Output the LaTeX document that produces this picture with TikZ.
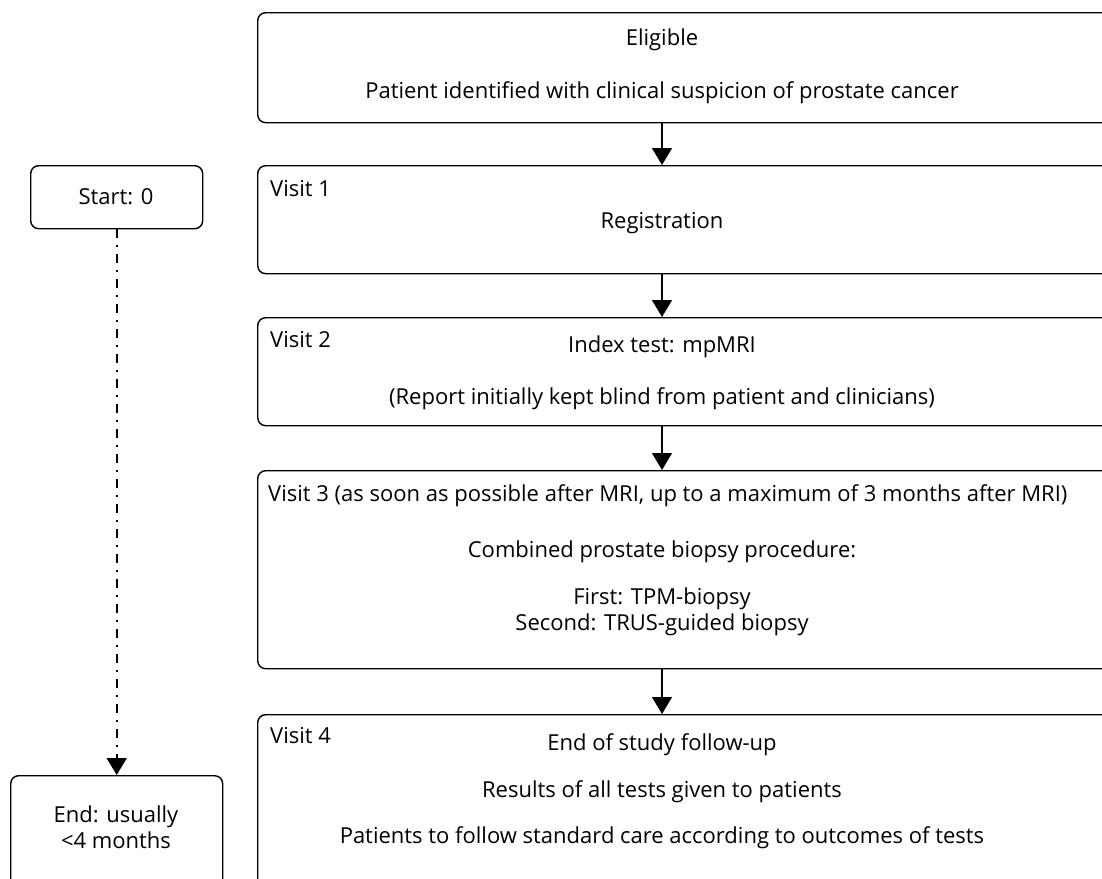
\documentclass[tikz,border=0pt]{standalone}
\usepackage{fontspec}
\setmainfont{Open Sans}
\usetikzlibrary{arrows.meta}

\tikzset{
  box/.style={draw, line width=1.4pt, rounded corners=8pt, anchor=north west, inner sep=0pt},
  txt/.style={font=\fontsize{22}{26}\selectfont, inner sep=0pt, align=center},
  arr/.style={line width=1.4pt, -{Triangle[width=20pt,length=17pt]}},
  dashdot/.style={line width=1.6pt, dash pattern=on 9pt off 7pt on 2pt off 7pt, -{Triangle[width=20pt,length=17pt]}}
}

\begin{document}
\begin{tikzpicture}[x=1pt,y=-1pt]
    \useasboundingbox (0,0) rectangle (1102,878);
    \clip (0,0) rectangle (1102,878);

    % main column
    \node[box, minimum width=860, minimum height=110] (eligible) at (257,12) {};
    \node[box, minimum width=860, minimum height=108] (visit1) at (257,165) {};
    \node[box, minimum width=860, minimum height=108] (visit2) at (257,317) {};
    \node[box, minimum width=860, minimum height=198] (visit3) at (257,470) {};
    \node[box, minimum width=860, minimum height=200] (visit4) at (257,714) {};

    \node[txt] (t01) at (662,40)  {Eligible};
    \node[txt] (t02) at (662,93)  {Patient identified with clinical suspicion of prostate cancer};

    \node[txt, anchor=west] (t11) at (270,189) {Visit 1};
    \node[txt] (t12) at (662,223) {Registration};

    \node[txt, anchor=west] (t21) at (270,340) {Visit 2};
    \node[txt] (t22) at (662,347) {Index test: mpMRI};
    \node[txt] (t23) at (662,399) {(Report initially kept blind from patient and clinicians)};

    \node[txt, anchor=west] (t31) at (268,496) {Visit 3 (as soon as possible after MRI, up to a maximum of 3 months after MRI)};
    \node[txt] (t32) at (662,552) {Combined prostate biopsy procedure:};
    \node[txt] (t33) at (662,612) {First: TPM-biopsy\\Second: TRUS-guided biopsy};

    \node[txt, anchor=west] (t41) at (270,736) {Visit 4};
    \node[txt] (t42) at (662,745) {End of study follow-up};
    \node[txt] (t43) at (662,792) {Results of all tests given to patients};
    \node[txt] (t44) at (662,838) {Patients to follow standard care according to outcomes of tests};

    % time line
    \node[box, minimum width=172, minimum height=63] (start) at (30,165) {};
    \node[txt] (ts) at (116,197) {Start: 0};
    \node[box, minimum width=212, minimum height=140] (end) at (10,775) {};
    \node[txt] (te) at (116,827) {End: usually\\<4 months};

    \coordinate (ax) at (662,0);
    \draw[arr] (eligible.south -| ax) -- (visit1.north -| ax);
    \draw[arr] (visit1.south -| ax) -- (visit2.north -| ax);
    \draw[arr] (visit2.south -| ax) -- (visit3.north -| ax);
    \draw[arr] (visit3.south -| ax) -- (visit4.north -| ax);

    \draw[dashdot] (start.south) -- (end.north);

\end{tikzpicture}
\end{document}
